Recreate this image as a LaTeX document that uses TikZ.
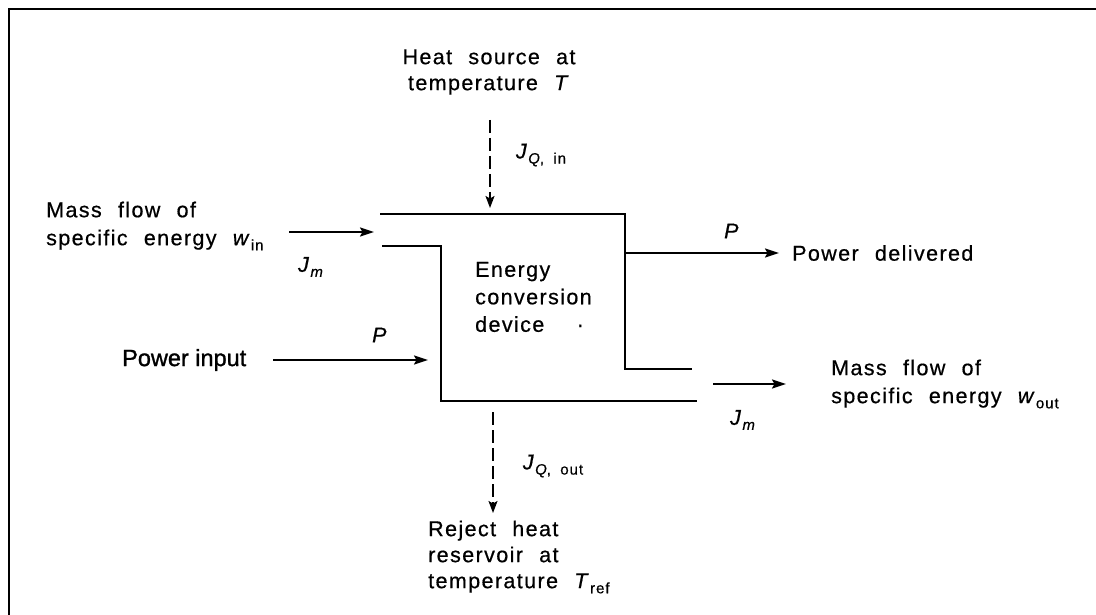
\documentclass[tikz,border=0pt]{standalone}
\usepackage{fontspec}
\setmainfont[LetterSpace=6.5,WordSpace=2.2,FakeBold=0.6]{Liberation Sans}
\newfontfamily\pfont[FakeBold=1.2]{Liberation Sans}
\usetikzlibrary{arrows.meta}
\newcommand\lowtxt[1]{\raisebox{-0.45ex}{\fontsize{15}{15}\selectfont #1}}
\tikzset{
  lbl/.style={inner sep=0pt, font=\fontsize{21.5}{27}\selectfont},
  flow/.style={line width=2pt, -{Stealth[length=14pt,width=9pt,inset=2.5pt]}},
  heat/.style={line width=1.6pt, dash pattern=on 13pt off 5pt, -{Stealth[length=12pt,width=9pt,inset=2.5pt]}},
  wall/.style={line width=2pt},
}
\begin{document}
\begin{tikzpicture}[x=1pt,y=-1pt]
\useasboundingbox (0,0) rectangle (1096,615);
% frame
\draw[line width=2.5pt] (9,615) -- (9,9) -- (1096,9);

% device walls
\coordinate (t1) at (380,214);
\coordinate (t2) at (625,214);
\coordinate (t3) at (625,369);
\coordinate (t4) at (692,369);
\coordinate (b1) at (382,246);
\coordinate (b2) at (441,246);
\coordinate (b3) at (441,401);
\coordinate (b4) at (697,401);
\draw[wall] (t1) -- (t2) -- (t3) -- (t4);
\draw[wall] (b1) -- (b2) -- (b3) -- (b4);

% texts
\node[lbl, align=center, font=\fontsize{21.5}{26}\selectfont] (heatsrc) at (489,72) {Heat source at\\temperature \textit{T}};
\node[lbl, align=left, anchor=west, font=\fontsize{21.5}{28}\selectfont] (massin) at (46,226) {Mass flow of\\specific energy \textit{w}\lowtxt{in}};
\node[lbl] (jm1) at (311,267) {\textit{J}\lowtxt{\textit{m}}};
\node[lbl] (p1) at (380,335) {\textit{P}};
\node[inner sep=0pt, anchor=west, font=\pfont\fontsize{23.5}{24}\selectfont] (powin) at (122,360) {Power input};
\node[lbl, align=left, anchor=west, font=\fontsize{21.5}{27.5}\selectfont] (device) at (475,297) {Energy\\conversion\\device\ \ ·};
\node[lbl] (p2) at (732,231) {\textit{P}};
\node[lbl, anchor=west] (powdel) at (792,253) {Power delivered};
\node[lbl, align=left, anchor=west, font=\fontsize{21.5}{28}\selectfont] (massout) at (831,384) {Mass flow of\\specific energy \textit{w}\lowtxt{out}};
\node[lbl] (jm2) at (743,420) {\textit{J}\lowtxt{\textit{m}}};
\node[lbl] (jqin) at (541,155) {\textit{J}\lowtxt{\textit{Q},\hspace{-2pt} in}};
\node[lbl] (jqout) at (553,466) {\textit{J}\lowtxt{\textit{Q},\hspace{-2pt} out}};
\node[lbl, align=left, anchor=west, font=\fontsize{21.5}{26}\selectfont] (reject) at (428,557) {Reject heat\\reservoir at\\temperature \textit{T}\lowtxt{ref}};

% connector end points
\coordinate (minS) at (289,232);
\coordinate (minE) at (374,232);
\coordinate (pinS) at (273,360);
\coordinate (pinE) at (428,360);
\coordinate (qinS) at (490,120);
\coordinate (qinE) at (490,208);
\coordinate (pdS) at (625,253);
\coordinate (pdE) at (779,253);
\coordinate (moS) at (713,384);
\coordinate (moE) at (786,384);
\coordinate (qoS) at (493,412);
\coordinate (qoE) at (493,513);

\draw[flow] (minS) -- (minE);
\draw[flow] (pinS) -- (pinE);
\draw[heat] (qinS) -- (qinE);
\draw[flow] (pdS) -- (pdE);
\draw[flow] (moS) -- (moE);
\draw[heat] (qoS) -- (qoE);
\end{tikzpicture}
\end{document}
